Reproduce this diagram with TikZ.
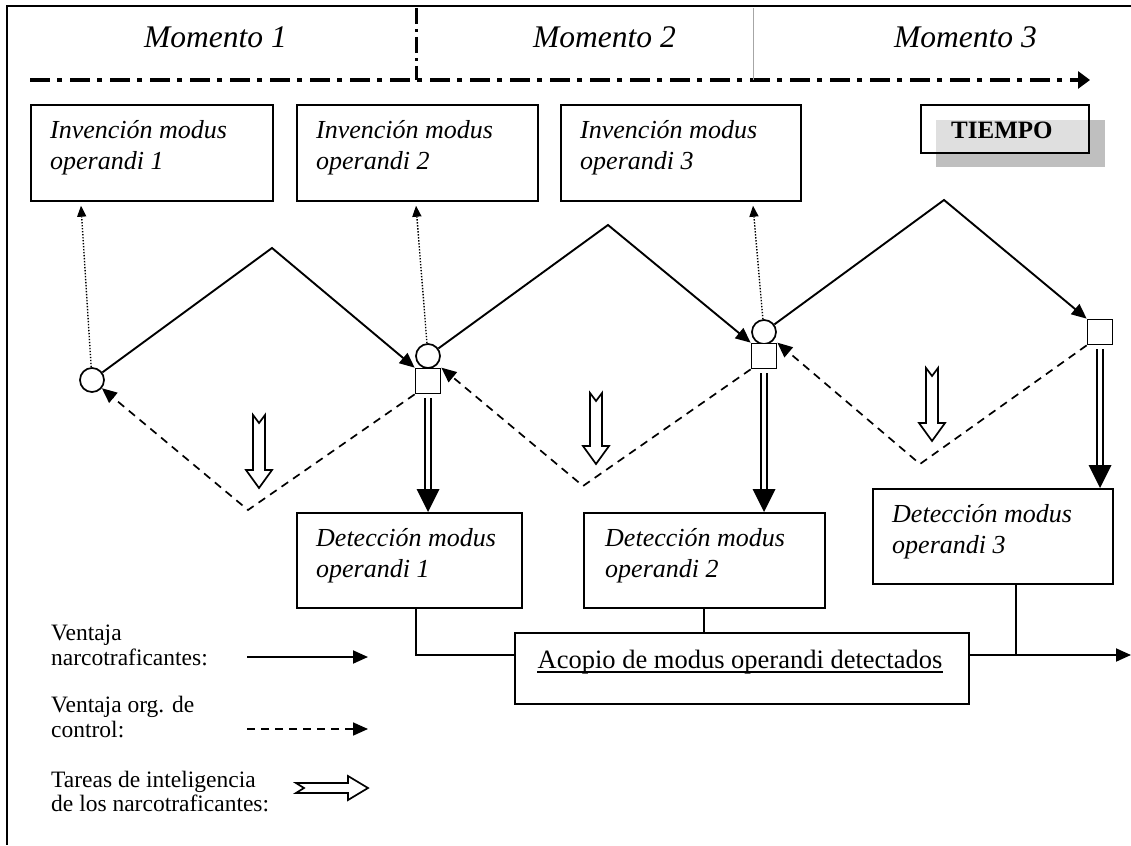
\documentclass[tikz,border=0pt]{standalone}
\usepackage{fontspec}
\setmainfont{Liberation Serif}
\usetikzlibrary{arrows.meta,calc}
\newcommand\fMom{\fontsize{31.5}{36}\selectfont\itshape}
\newcommand\fInv{\fontsize{26}{31}\selectfont\itshape}
\newcommand\fLeg{\fontsize{23.5}{27}\selectfont}
\newcommand\fAco{\fontsize{26.5}{30}\selectfont}
\newcommand\fTie{\fontsize{25}{30}\selectfont\bfseries}
\newcommand\dblarr[2]{%
  \draw[line width=1.9pt] ($(#1)+(-2.8,4)$) -- ($(#2)+(-2.8,-20)$) ($(#1)+(2.8,4)$) -- ($(#2)+(2.8,-20)$);
  \fill ($(#2)+(-11.5,-23)$) -- (#2) -- ($(#2)+(11.5,-23)$) -- cycle;}
\newcommand\hdown[2]{%
  \draw[hollow] ($(#1)+(-6,0)$) -- ($(#1)+(0,8)$) -- ($(#1)+(6,0)$) -- ($(#1)+(6,#2-18)$) -- ($(#1)+(13,#2-18)$) -- ($(#1)+(0,#2)$) -- ($(#1)+(-13,#2-18)$) -- ($(#1)+(-6,#2-18)$) -- cycle;}
\begin{document}
\begin{tikzpicture}[x=1pt,y=-1pt,
  box/.style={draw,line width=1.7pt,inner sep=0pt,anchor=north west},
  txt/.style={anchor=base west,inner sep=0pt},
  conn/.style={line width=1.9pt},
  tip/.style={-{Triangle[length=15pt,width=13pt]}},
  smalltip/.style={-{Triangle[length=11pt,width=9pt]}},
  ctrl/.style={line width=1.7pt,dash pattern=on 8pt off 6pt},
  dots/.style={line width=1.4pt,dash pattern=on 1.4pt off 1.6pt},
  markbox/.style={draw,line width=1.7pt,fill=white,inner sep=0pt},
  hollow/.style={draw,line width=1.7pt,fill=white,line join=miter},
  ]
\useasboundingbox (0,0) rectangle (1131,845);

% frame
\coordinate (fTR) at (1131,6);
\coordinate (fTL) at (7,6);
\coordinate (fBL) at (7,845);
\draw[line width=2.5pt] (fTR) -- (fTL) -- (fBL);

% time axis
\coordinate (ax0) at (30,80);
\coordinate (ax1) at (1090,80);
\draw[line width=4.5pt,dash pattern=on 20pt off 7pt on 5pt off 8pt,-{Triangle[length=12pt,width=17pt]}] (ax0) -- (ax1);
\coordinate (sepA0) at (416,8);
\coordinate (sepA1) at (416,80);
\draw[line width=3pt,dash pattern=on 16pt off 5pt on 3pt off 5pt] (sepA0) -- (sepA1);
\coordinate (sepB0) at (753,8);
\coordinate (sepB1) at (753,80);
\draw[line width=0.8pt,gray!70] (sepB0) -- (sepB1);

\node[txt] (m1) at (144,48) {\fMom Momento 1};
\node[txt] (m2) at (533,48) {\fMom Momento 2};
\node[txt] (m3) at (894,48) {\fMom Momento 3};

% invention boxes
\node[box,minimum width=242pt,minimum height=96pt] (b1) at (30,104) {};
\node[box,minimum width=241pt,minimum height=96pt] (b2) at (296,104) {};
\node[box,minimum width=240pt,minimum height=96pt] (b3) at (560,104) {};
\node[txt] (b1a) at (50,139) {\fInv Invención modus};
\node[txt] (b1b) at (50,170) {\fInv operandi 1};
\node[txt] (b2a) at (316,139) {\fInv Invención modus};
\node[txt] (b2b) at (316,170) {\fInv operandi 2};
\node[txt] (b3a) at (580,139) {\fInv Invención modus};
\node[txt] (b3b) at (580,170) {\fInv operandi 3};

% TIEMPO
\node[anchor=north west,inner sep=0pt,fill=gray!50,minimum width=169pt,minimum height=47pt] (tsh) at (936,120) {};
\node[anchor=north west,inner sep=0pt,fill=gray!25,minimum width=152pt,minimum height=32pt] (tlt) at (936,120) {};
\node[box,minimum width=168pt,minimum height=48pt] (tb) at (920,104) {};
\node[txt] (tt) at (951,139) {\fTie TIEMPO};

% markers
\node[markbox,circle,minimum size=24pt] (c1) at (92,380) {};
\node[markbox,circle,minimum size=24pt] (c2) at (428,356) {};
\node[markbox,circle,minimum size=24pt] (c3) at (764,332) {};
\node[markbox,rectangle,minimum size=25pt] (s2) at (428,381) {};
\node[markbox,rectangle,minimum size=25pt] (s3) at (764,356) {};
\node[markbox,rectangle,minimum size=25pt] (s4) at (1100,332) {};

\coordinate (p1) at (272,248);
\coordinate (p2) at (608,225);
\coordinate (p3) at (944,200);
\coordinate (v1) at (248,510);
\coordinate (v2) at (583,486);
\coordinate (v3) at (920,464);

\draw[conn,tip] (c1) -- (p1) -- (s2.north west);
\draw[conn,tip] (c2) -- (p2) -- (s3.north west);
\draw[conn,tip] (c3) -- (p3) -- (s4.north west);

\draw[ctrl,tip] (s4.south west) -- (v3) -- (s3.north east);
\draw[ctrl,tip] (s3.south west) -- (v2) -- (s2.north east);
\draw[ctrl,tip] (s2.south west) -- (v1) -- (c1);

\coordinate (d1t) at ($(b1.south west)+(51,4)$);
\coordinate (d2t) at ($(b2.south west)+(120,4)$);
\coordinate (d3t) at ($(b3.south west)+(193,4)$);
\draw[dots,smalltip] (c1) -- (d1t);
\draw[dots,smalltip] (c2) -- (d2t);
\draw[dots,smalltip] (c3) -- (d3t);

% intelligence arrows
\coordinate (h1) at (259,415);
\coordinate (h2) at (596,393);
\coordinate (h3) at (932,368);
\hdown{h1}{73}
\hdown{h2}{71}
\hdown{h3}{73}

% detection boxes
\node[box,minimum width=225pt,minimum height=95pt] (d1) at (296,512) {};
\node[box,minimum width=241pt,minimum height=95pt] (d2) at (583,512) {};
\node[box,minimum width=240pt,minimum height=95pt] (d3) at (872,488) {};
\node[txt] (d1a) at (316,546) {\fInv Detección modus};
\node[txt] (d1b) at (316,577) {\fInv operandi 1};
\node[txt] (d2a) at (605,546) {\fInv Detección modus};
\node[txt] (d2b) at (605,577) {\fInv operandi 2};
\node[txt] (d3a) at (892,522) {\fInv Detección modus};
\node[txt] (d3b) at (892,553) {\fInv operandi 3};

\coordinate (e2) at (s2.south |- d1.north);
\coordinate (e3) at (s3.south |- d2.north);
\coordinate (e4) at (s4.south |- d3.north);
\dblarr{s2.south}{e2}
\dblarr{s3.south}{e3}
\dblarr{s4.south}{e4}

% collection box
\node[box,minimum width=454pt,minimum height=71pt] (ac) at (514,632) {};
\node[anchor=base,inner sep=0pt] (act) at (740,668) {\fAco Acopio de modus operandi detectados};
\draw[line width=1.2pt] ($(act.base west)+(0,4)$) -- ($(act.base east)+(0,4)$);

\coordinate (acw) at ($(ac.north west)+(0,23)$);
\coordinate (ace) at ($(ac.north east)+(0,23)$);
\coordinate (k1) at ($(d1.south west)+(120,0)$);
\coordinate (k3) at ($(d3.south west)+(144,0)$);
\coordinate (oute) at (1131,655);
\draw[conn] (k1) -- (k1 |- acw) -- (acw);
\draw[conn] (d2.south) -- (d2.south |- ac.north);
\draw[conn] (k3) -- (k3 |- ace);
\draw[conn,tip] (ace) -- (oute);

% legend
\node[txt] (l1a) at (51,640) {\fLeg Ventaja};
\node[txt] (l1b) at (51,665) {\fLeg narcotraficantes:};
\node[txt] (l2a) at (51,712) {\fLeg Ventaja org. de};
\node[txt] (l2b) at (51,737) {\fLeg control:};
\node[txt] (l3a) at (51,787) {\fLeg Tareas de inteligencia};
\node[txt] (l3b) at (51,811) {\fLeg de los narcotraficantes:};
\coordinate (la0) at (247,657);
\coordinate (la1) at (368,657);
\coordinate (lb0) at (247,729);
\coordinate (lb1) at (368,729);
\coordinate (lc) at (296,788);
\draw[conn,tip] (la0) -- (la1);
\draw[ctrl,tip] (lb0) -- (lb1);
\draw[hollow] ($(lc)+(0,-5)$) -- ($(lc)+(52,-5)$) -- ($(lc)+(52,-12)$) -- ($(lc)+(72,0)$) -- ($(lc)+(52,12)$) -- ($(lc)+(52,5)$) -- ($(lc)+(0,5)$) -- ($(lc)+(8,0)$) -- cycle;
\end{tikzpicture}
\end{document}
